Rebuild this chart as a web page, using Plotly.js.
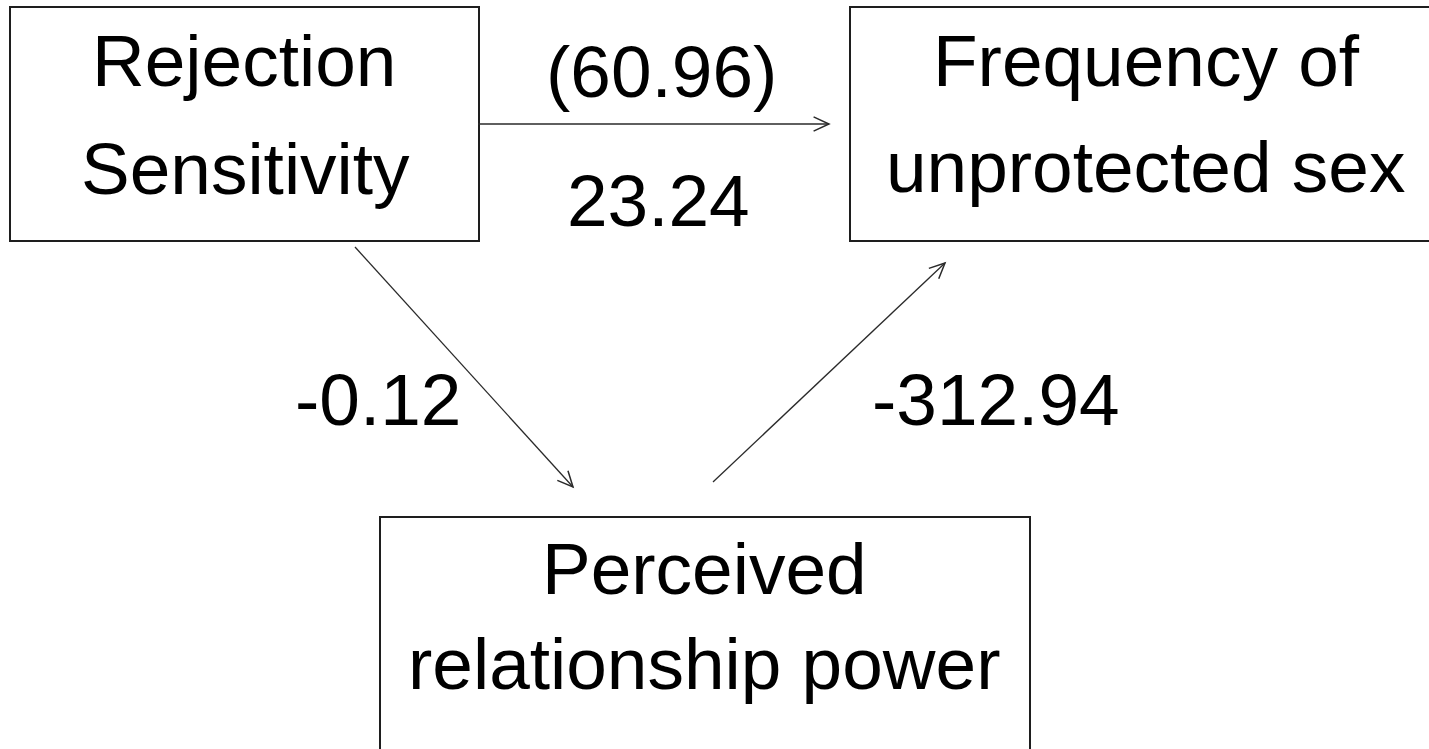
<!DOCTYPE html>
<html><head><meta charset="utf-8">
<script src="https://cdn.plot.ly/plotly-3.0.1.min.js"></script>
<style>html,body{margin:0;padding:0;background:#fff;overflow:hidden}#chart{width:1429px;height:749px}</style>
</head><body><div id="chart"></div>
<script>
// ---- data ----
const nodeLabels = [["Rejection", "Sensitivity"], ["Frequency of", "unprotected sex"], ["Perceived", "relationship power"]];
const pathFrom = [0, 2, 0];          // a: RS -> power, b: power -> sex, c': RS -> sex
const pathTo = [2, 1, 1];
const pathCoefs = [-0.12, -312.94, 23.24];
const totalEffect = [60.96];

// ---- layout geometry (pixel space) ----
const W = 1429, H = 749;
const boxes = [
  {x0: 10, y0: 7, x1: 479, y1: 241},
  {x0: 850, y0: 7, x1: 1445, y1: 241},
  {x0: 380, y0: 517, x1: 1030, y1: 765}
];
const labelLinePos = [
  [[244, 60], [245, 168]],
  [[1146, 60], [1145, 166]],
  [[704, 568], [704, 663]]
];
const arrowGeom = [
  {x0: 355, y0: 247, x1: 573, y1: 487},
  {x0: 713, y0: 482, x1: 945, y1: 263},
  {x0: 478, y0: 124, x1: 829, y1: 124}
];
const coefPos = [[378, 399], [996, 399], [658, 200]];
const totalPos = [[661, 71]];

const FONT = {family: "Liberation Sans, Arial, sans-serif", size: 73, color: "#000"};
const shapes = [];
const annotations = [];

boxes.forEach(b => shapes.push({type: "rect", xref: "x", yref: "y", x0: b.x0, x1: b.x1, y0: b.y0, y1: b.y1,
  line: {color: "#1e1e1e", width: 2}, fillcolor: "rgba(0,0,0,0)"}));

nodeLabels.forEach((lines, i) => lines.forEach((t, j) => annotations.push({
  x: labelLinePos[i][j][0], y: labelLinePos[i][j][1], xref: "x", yref: "y", text: t, showarrow: false,
  xanchor: "center", yanchor: "middle", font: FONT
})));

const ARM = 17, ANG = 25 * Math.PI / 180;
arrowGeom.forEach((g, k) => {
  shapes.push({type: "line", xref: "x", yref: "y", x0: g.x0, y0: g.y0, x1: g.x1, y1: g.y1,
    line: {color: "#2a2a2a", width: 1.3}});
  const th = Math.atan2(g.y1 - g.y0, g.x1 - g.x0);
  const p1 = [g.x1 - ARM * Math.cos(th - ANG), g.y1 - ARM * Math.sin(th - ANG)];
  const p2 = [g.x1 - ARM * Math.cos(th + ANG), g.y1 - ARM * Math.sin(th + ANG)];
  shapes.push({type: "path", xref: "x", yref: "y",
    path: `M${p1[0]},${p1[1]} L${g.x1},${g.y1} L${p2[0]},${p2[1]}`,
    line: {color: "#2a2a2a", width: 1.5}});
});

pathCoefs.forEach((c, k) => annotations.push({
  x: coefPos[k][0], y: coefPos[k][1], xref: "x", yref: "y", text: c.toFixed(2), showarrow: false,
  xanchor: "center", yanchor: "middle", font: FONT
}));
totalEffect.forEach((c, k) => annotations.push({
  x: totalPos[k][0], y: totalPos[k][1], xref: "x", yref: "y", text: "(" + c.toFixed(2) + ")", showarrow: false,
  xanchor: "center", yanchor: "middle", font: FONT
}));

const axis = {visible: false, showgrid: false, zeroline: false, fixedrange: true};
Plotly.newPlot("chart", [{x: [], y: [], type: "scatter", mode: "markers", hoverinfo: "skip", showlegend: false}], {
  width: W, height: H, margin: {l: 0, r: 0, t: 0, b: 0},
  paper_bgcolor: "#fff", plot_bgcolor: "#fff", showlegend: false,
  xaxis: Object.assign({range: [0, W]}, axis),
  yaxis: Object.assign({range: [H, 0]}, axis),
  shapes: shapes, annotations: annotations
}, {staticPlot: true, displayModeBar: false});
</script>
</body></html>
